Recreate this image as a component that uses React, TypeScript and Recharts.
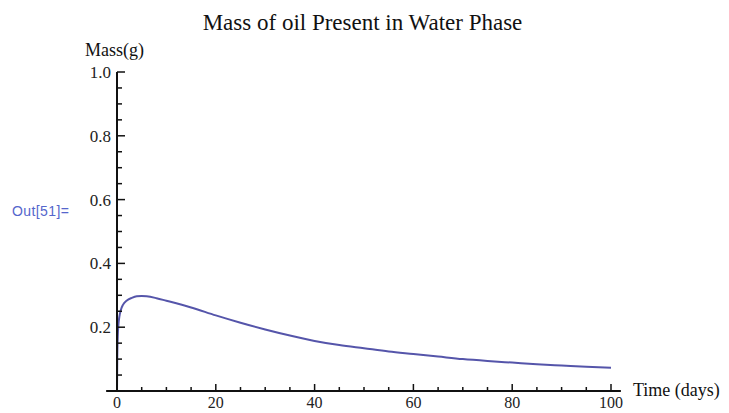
import { LineChart, Line, XAxis, YAxis, ReferenceLine } from "recharts";

const days = [
  0, 0.05, 0.15, 0.3, 0.5, 0.8, 1.2, 2, 3, 4, 5, 6, 8, 10, 12, 15, 20, 25, 30, 35,
  40, 45, 50, 55, 60, 65, 70, 75, 80, 85, 90, 95, 100,
];
const mass = [
  0, 0.1, 0.17, 0.21, 0.235, 0.255, 0.27, 0.284, 0.292, 0.297, 0.298, 0.297, 0.291,
  0.283, 0.275, 0.262, 0.237, 0.214, 0.193, 0.174, 0.157, 0.144, 0.134, 0.124, 0.116,
  0.108, 0.1, 0.094, 0.089, 0.084, 0.08, 0.076, 0.073,
];
const xTicks = [
  0, 5, 10, 15, 20, 25, 30, 35, 40, 45, 50, 55, 60, 65, 70, 75, 80, 85, 90, 95, 100,
];
const yTicks = [
  0, 0.05, 0.1, 0.15, 0.2, 0.25, 0.3, 0.35, 0.4, 0.45, 0.5, 0.55, 0.6, 0.65, 0.7,
  0.75, 0.8, 0.85, 0.9, 0.95, 1,
];

const data = days.map((d, i) => ({ day: d, mass: mass[i] }));

const SERIF = "'Liberation Serif', 'Times New Roman', serif";

const XTick = ({ x, y, payload }: any) => {
  const major = payload.value % 20 === 0;
  return (
    <g>
      <line x1={x} x2={x} y1={y} y2={y - (major ? 7 : 4)} stroke="#111" strokeWidth={1.5} />
      {major && (
        <text x={x} y={y + 17} textAnchor="middle" fontFamily={SERIF} fontSize={16} fill="#222">
          {payload.value}
        </text>
      )}
    </g>
  );
};

const YTick = ({ x, y, payload }: any) => {
  const v = Math.round(payload.value * 100);
  const major = v % 20 === 0;
  return (
    <g>
      <line x1={x} x2={x + (major ? 8 : 5)} y1={y} y2={y} stroke="#111" strokeWidth={1.5} />
      {major && v > 0 && (
        <text x={x - 6} y={y + 6} textAnchor="end" fontFamily={SERIF} fontSize={17} fill="#222">
          {(v / 100).toFixed(1)}
        </text>
      )}
    </g>
  );
};

export default function App() {
  return (
    <div style={{ position: "absolute", left: 0, top: 0, width: 729, height: 413, background: "#fff" }}>
      <div
        style={{
          position: "absolute", left: 0, width: 725, top: 10, textAlign: "center",
          fontFamily: SERIF, fontSize: 23, color: "#111", lineHeight: "26px",
        }}
      >
        Mass of oil Present in Water Phase
      </div>
      <div style={{ position: "absolute", left: 85, top: 40, fontFamily: SERIF, fontSize: 18, color: "#111", lineHeight: "20px" }}>
        Mass(g)
      </div>
      <div style={{ position: "absolute", left: 633, top: 380, fontFamily: SERIF, fontSize: 18, color: "#111", lineHeight: "20px" }}>
        Time (days)
      </div>
      <div
        style={{
          position: "absolute", left: 12, top: 203, fontFamily: "'Liberation Sans', Arial, sans-serif",
          fontSize: 14, letterSpacing: 0.4, color: "#5566cc", lineHeight: "16px",
        }}
      >
        Out[51]=
      </div>
      <LineChart width={729} height={413} data={data} margin={{ top: 72, right: 118, bottom: 0, left: 77 }}>
        <XAxis
          dataKey="day"
          type="number"
          domain={[0, 100]}
          ticks={xTicks}
          interval={0}
          axisLine={false}
          tickLine={false}
          tickSize={0}
          tickMargin={0}
          tick={<XTick />}
          height={22}
        />
        <YAxis
          type="number"
          domain={[0, 1]}
          ticks={yTicks}
          interval={0}
          axisLine={{ stroke: "#111", strokeWidth: 2 }}
          tickLine={false}
          tickSize={0}
          tickMargin={0}
          tick={<YTick />}
          width={40}
        />
        <ReferenceLine
          segment={[{ x: -2.2, y: 0 }, { x: 102, y: 0 }]}
          ifOverflow="visible"
          stroke="#111"
          strokeWidth={2}
        />
        <Line
          type="monotone"
          dataKey="mass"
          stroke="#5555aa"
          strokeWidth={2}
          dot={false}
          isAnimationActive={false}
        />
      </LineChart>
    </div>
  );
}
